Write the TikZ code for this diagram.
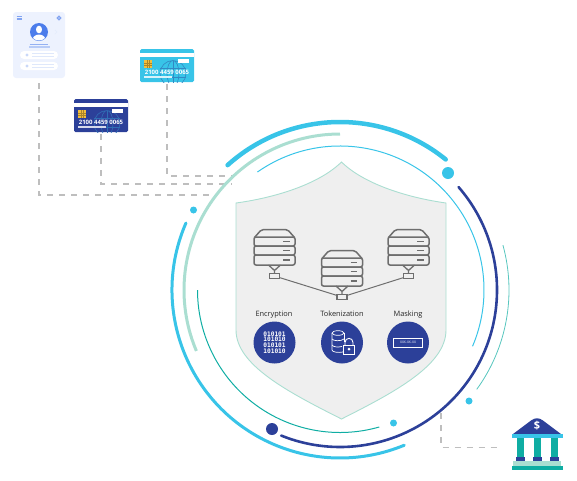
\documentclass[tikz,border=0pt]{standalone}
\usepackage{fontspec}
\setmainfont{Open Sans}
\setmonofont{DejaVu Sans Mono}
\usepackage{tikz}
\usetikzlibrary{positioning, arrows.meta, calc}
\definecolor{SkyColor}{RGB}{56,196,232}
\definecolor{NavyColor}{RGB}{44,64,153}
\definecolor{MintColor}{RGB}{170,222,209}
\definecolor{TealColor}{RGB}{15,173,163}
\definecolor{PanelColor}{RGB}{237,242,254}
\definecolor{AvatarColor}{RGB}{76,125,235}
\definecolor{ShieldColor}{RGB}{239,239,239}
\definecolor{RackColor}{RGB}{110,110,110}
\definecolor{ChipColor}{RGB}{243,190,60}
\definecolor{DashColor}{RGB}{190,190,190}
\tikzset{
  dashline/.style={draw=DashColor, line width=1.2pt, dash pattern=on 6pt off 6pt},
  ringdot/.style={circle, inner sep=0pt, draw=none},
  cardbox/.style={rectangle, rounded corners=1.5pt, minimum width=54pt, minimum height=33pt, inner sep=0pt},
  portbox/.style={rectangle, draw=RackColor, line width=1.3pt, fill=ShieldColor, minimum width=10pt, minimum height=5pt, inner sep=0pt},
  techicon/.style={circle, fill=NavyColor, minimum size=42pt, inner sep=0pt, text=white},
  techlabel/.style={font=\fontsize{7.4}{8}\selectfont, text=black!85, anchor=base, inner sep=0pt},
  pills/.style={rectangle, rounded corners=4pt, fill=white, minimum width=38pt, minimum height=8pt, inner sep=0pt}
}
% Payment card: name, centre, body colour, globe colour
\newcommand{\paycard}[5]{
  \node[cardbox, fill=#4] (#1) at (#2,#3) {};
  \begin{scope}[shift={(#2,#3)}]
    \begin{scope}
      \clip (-27,-9) rectangle (27,16.5);
      \draw[#5, line width=0.6pt] (6,8) circle (13pt) (6,8) ellipse [x radius=6pt, y radius=13pt];
      \draw[#5, line width=0.6pt] (-7,3) -- (19,3) (-7,12) -- (19,12) (6,-5) -- (6,21);
    \end{scope}
    \fill[white] (-27,-13) rectangle (27,-9);
    \fill[ChipColor] (-23,-5.5) rectangle (-15,2.5);
    \draw[ChipColor!70!black, line width=0.25pt] (-20.3,-5.5) -- (-20.3,2.5) (-17.7,-5.5) -- (-17.7,2.5) (-23,-2.8) -- (-15,-2.8) (-23,-0.2) -- (-15,-0.2);
    \fill[white] (11,-6.5) rectangle (22,-2.5);
    \node[font=\fontsize{6}{7}\bfseries\selectfont, text=white, inner sep=0pt] (#1num) at (0,6.5) {2100 4459 0065};
    \fill[white!80!#4] (-23,10.8) rectangle (5,12.3);
  \end{scope}
}
% Server rack: centre of the rack top
\newcommand{\serverrack}[2]{
  \begin{scope}[shift={(#1,#2)}, draw=RackColor, line width=1.5pt, rounded corners=2pt]
    \draw (-20,8) -- (-13,0) -- (13,0) -- (20,8);
    \draw (-20.5,7.5) rectangle (20.5,16.5);
    \draw (-20.5,16.5) rectangle (20.5,25.5);
    \draw (-20.5,25.5) rectangle (20.5,35.5);
    \foreach \y in {12,21,30.5} {\draw[sharp corners, line width=1.4pt] (8.5,\y) -- (15,\y);}
    \draw[sharp corners, line width=1.3pt] (-6,35.5) -- (0,41) -- (6,35.5) (0,41) -- (0,45);
  \end{scope}
}
\newcommand{\ringarc}[5]{
  \draw[#1, line width=#2pt] ([shift={(#4:#3pt)}]hub) arc[start angle=#4, end angle=#5, radius=#3pt];
}
\begin{document}
\begin{tikzpicture}[x=1pt, y=-1pt]
  \useasboundingbox (0,0) rectangle (577,480);
  \coordinate (hub) at (340,290);

  % Dashed links
  \coordinate (panelEnd) at (217,195);
  \coordinate (navyEnd) at (232,184);
  \coordinate (cyanEnd) at (233,176);
  \coordinate (ringEnd) at (441,413);
  \coordinate (bankEnd) at (502,447.5);

  % User panel
  \node[rectangle, rounded corners=3pt, fill=PanelColor, minimum width=52pt, minimum height=66pt, inner sep=0pt] (panel) at (39,45) {};
  \draw[AvatarColor!70, line width=0.7pt] (16.5,16.5) -- (21.5,16.5) (16.5,18) -- (21.5,18) (16.5,19.5) -- (21.5,19.5);
  \draw[AvatarColor!70, line width=1.3pt] (59,18) circle (1.8pt);
  \draw[AvatarColor!15, line width=0.6pt] (55,30) -- (57,32) -- (55,34);
  \node[circle, fill=AvatarColor, minimum size=18pt, inner sep=0pt] (avatar) at (39,32) {};
  \begin{scope}
    \clip (39,32) circle (8.5pt);
    \fill[white] (39,29.5) ellipse [x radius=3pt, y radius=3.8pt];
    \fill[white] (39,41) ellipse [x radius=7pt, y radius=6.5pt];
  \end{scope}
  \draw[AvatarColor!60, line width=0.8pt] (29.5,44.5) -- (48,44.5);
  \draw[AvatarColor!40, line width=1.2pt] (29,47) -- (49.5,47);
  \foreach \y/\n in {55/pillA, 66/pillB} {
    \node[pills] (\n) at (39,\y) {};
    \fill[AvatarColor!30] (27,\y) circle (1.7pt);
    \draw[AvatarColor!18, line width=0.6pt] (32,\y-1.5) -- (54,\y-1.5) (32,\y+1.5) -- (54,\y+1.5);
  }

  % Cards
  \paycard{cyanCard}{167}{65.5}{SkyColor}{NavyColor!45!SkyColor}
  \paycard{navyCard}{101}{115.5}{NavyColor}{SkyColor!35!NavyColor}

  \draw[dashline] ([yshift=-5pt]panel.south) |- (panelEnd);
  \draw[dashline] ([yshift=-2pt]navyCard.south) |- (navyEnd);
  \draw[dashline] ([yshift=-2pt]cyanCard.south) |- (cyanEnd);
  \draw[dashline] (ringEnd) |- (bankEnd);

  % Rings
  \ringarc{SkyColor, line cap=round}{4.5}{168}{132}{51}
  \ringarc{SkyColor, line cap=round}{3}{168}{156.5}{292.5}
  \ringarc{MintColor}{3}{156}{90}{203}
  \ringarc{SkyColor}{1}{144}{125}{-23}
  \ringarc{NavyColor, line cap=round}{2.6}{157}{41}{-112}
  \ringarc{TealColor}{1}{142.5}{180}{286}
  \ringarc{TealColor!70}{0.8}{169}{15.4}{-36}

  % Ring dots
  \node[ringdot, fill=SkyColor, minimum size=12pt] (dotA) at (448,173) {};
  \node[ringdot, fill=SkyColor, minimum size=7pt] (dotB) at (193.5,210) {};
  \node[ringdot, fill=SkyColor, minimum size=7pt] (dotC) at (469,401) {};
  \node[ringdot, fill=SkyColor, minimum size=7pt] (dotD) at (393.5,423) {};
  \node[ringdot, fill=NavyColor, minimum size=12pt] (dotE) at (272,429) {};

  % Shield
  \draw[draw=MintColor, fill=ShieldColor, line width=0.9pt]
    (341.5,162) .. controls (365,185) and (410,198) .. (446,203)
    -- (446,330) .. controls (446,365) and (395,392) .. (341.5,419)
    .. controls (288,392) and (236,365) .. (236,330)
    -- (236,203) .. controls (273,198) and (318,185) .. (341.5,162) -- cycle;

  % Servers
  \serverrack{274.5}{229.5}
  \serverrack{342}{250.5}
  \serverrack{408.5}{229.5}
  \node[portbox] (portA) at (274.5,276) {};
  \node[portbox] (portB) at (342,297) {};
  \node[portbox] (portC) at (408.5,276) {};
  \draw[RackColor, line width=1pt] (portA) -- (portB);
  \draw[RackColor, line width=1pt] (portC) -- (portB);

  % Labels
  \node[techlabel] (encLabel) at (274,316.5) {Encryption};
  \node[techlabel] (tokLabel) at (342,316.5) {Tokenization};
  \node[techlabel] (maskLabel) at (408,316.5) {Masking};

  % Icons
  \node[techicon, font=\fontsize{6.2}{5.8}\ttfamily\bfseries\selectfont, align=center] (encIcon) at (274.5,342.5) {010101\\101010\\010101\\101010};
  \node[techicon] (tokIcon) at (342,342.5) {};
  \node[techicon] (maskIcon) at (408,342.5) {};
  % Database and lock
  \draw[white, line width=0.7pt] (338,333) ellipse [x radius=6pt, y radius=2.3pt];
  \draw[white, line width=0.7pt] (332,333) -- (332,350) .. controls (332,352) and (338,353) .. (343,352);
  \draw[white, line width=0.7pt] (344,333) -- (344,342);
  \draw[white, line width=0.7pt] (332,339) .. controls (333,341) and (341,341.5) .. (344,339);
  \draw[white, line width=0.7pt] (332,345) .. controls (333,347) and (338,347.5) .. (342,346.5);
  \draw[white, line width=0.9pt] (345,345) -- (345,342.5) .. controls (345,337) and (353,337) .. (353,342.5) -- (353,345);
  \draw[white, fill=NavyColor, line width=0.8pt] (343.5,345) rectangle (354.5,354);
  \fill[white] (349,349) circle (1.5pt);
  % Mask field
  \node[draw=white, line width=0.5pt, minimum width=29pt, minimum height=9pt, inner sep=0pt, text=white, font=\fontsize{3.4}{4}\selectfont] (maskField) at (408,342.5) {XXX-XX-XX};

  % Bank
  \fill[NavyColor] (513,434) -- (531,420.5) .. controls (535,417.5) and (539,417.5) .. (543,420.5) -- (561,434) -- cycle;
  \node[font=\fontsize{11}{12}\bfseries\selectfont, text=white, inner sep=0pt] (bankSign) at (537,426) {\$};
  \fill[SkyColor] (512,434) rectangle (563,437.5);
  \foreach \x in {517,534,551} {
    \fill[TealColor] (\x,437.5) rectangle (\x+7,457);
    \fill[NavyColor] (\x-1,457) rectangle (\x+8,461);
  }
  \fill[MintColor] (513,461) rectangle (561,466);
  \fill[TealColor] (512,466) rectangle (563,469.5);
\end{tikzpicture}
\end{document}
